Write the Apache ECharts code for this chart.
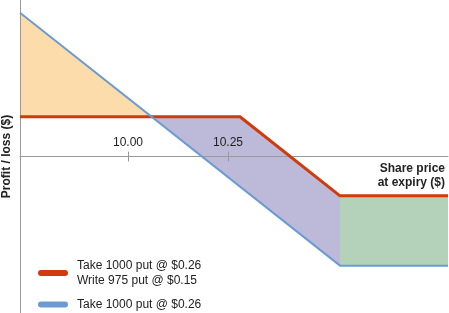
<!DOCTYPE html>
<html><head><meta charset="utf-8">
<script src="https://cdn.jsdelivr.net/npm/echarts@6/dist/echarts.min.js"></script>
<style>html,body{margin:0;padding:0;background:#fff}#c{width:449px;height:313px}</style>
</head><body><div id="c"></div>
<script>
// ---- data ----
const tickValues = [10.00, 10.25];
const tickLabels = ['10.00', '10.25'];
const redName = 'Take 1000 put @ $0.26\nWrite 975 put @ $0.15';
const blueName = 'Take 1000 put @ $0.26';
const redPrices = [9.73, 10.28, 10.53, 10.80];
const redPL = [94, 94, -93, -93];
const bluePrices = [9.73, 10.53, 10.80];
const bluePL = [340, -258, -258];
const xMin = 9.73, xMax = 10.80, yMin = -370, yMax = 370;
const fillColors = ['#FDDCAB', '#BCBAD8', '#B4D2B9'];

// ---- geometry helpers ----
function valAt(xs, ys, x) {
  for (let i = 0; i < xs.length - 1; i++) {
    if (x >= xs[i] - 1e-9 && x <= xs[i + 1] + 1e-9) {
      const t = (x - xs[i]) / (xs[i + 1] - xs[i]);
      return ys[i] + t * (ys[i + 1] - ys[i]);
    }
  }
  return ys[ys.length - 1];
}
const breaks = Array.from(new Set(redPrices.concat(bluePrices))).sort((a, b) => a - b);
let cross = null;
for (let i = 0; i < breaks.length - 1 && cross === null; i++) {
  const a = breaks[i], b = breaks[i + 1];
  const da = valAt(redPrices, redPL, a) - valAt(bluePrices, bluePL, a);
  const db = valAt(redPrices, redPL, b) - valAt(bluePrices, bluePL, b);
  if (da * db < 0) cross = a + (b - a) * da / (da - db);
}
const regions = [[xMin, cross], [cross, bluePrices[1]], [bluePrices[1], xMax]];

const font = '"Liberation Sans", Arial, sans-serif';
const chart = echarts.init(document.getElementById('c'));
const gridTop = 0, gridBottom = 0;
const plotH = chart.getHeight() - gridTop - gridBottom;
// distance of the zero line above the grid's bottom edge (for the label axis)
const zeroFromBottom = plotH * (0 - yMin) / (yMax - yMin);

chart.setOption({
  animation: false,
  grid: { left: 20, right: 1, top: gridTop, bottom: gridBottom, containLabel: false, outerBoundsMode: 'none' },
  legend: {
    orient: 'vertical', left: 38, top: 258, itemGap: 9, padding: 0,
    itemWidth: 30, itemHeight: 6,
    icon: 'path://M3,0 H27 A3,3 0 0 1 27,6 H3 A3,3 0 0 1 3,0 Z',
    textStyle: { fontFamily: font, fontSize: 12, color: '#222', lineHeight: 15, padding: [0, 0, 0, 4] },
    data: [redName, blueName]
  },
  xAxis: [{
    type: 'value', min: xMin, max: xMax, position: 'bottom', z: 2,
    name: 'Share price\nat expiry ($)', nameLocation: 'end', nameGap: -3,
    nameTextStyle: { fontFamily: font, fontSize: 12, fontWeight: 'bold', color: '#222',
      align: 'right', verticalAlign: 'top', lineHeight: 14, padding: [5, 0, 0, 0] },
    axisLine: { onZero: true, lineStyle: { color: '#999', width: 1 } },
    axisTick: { show: true, inside: false, length: 5, customValues: tickValues, lineStyle: { color: '#999' } },
    axisLabel: { show: false },
    splitLine: { show: false }
  }, {
    type: 'value', min: xMin, max: xMax, position: 'bottom', offset: -zeroFromBottom, z: 2,
    axisLine: { show: false, onZero: false },
    axisTick: { show: true, inside: true, length: 5, customValues: tickValues, lineStyle: { color: '#999' } },
    axisLabel: { inside: true, margin: 8, customValues: tickValues,
      formatter: v => tickLabels[tickValues.indexOf(v)] !== undefined ? tickLabels[tickValues.indexOf(v)] : v.toFixed(2),
      fontFamily: font, fontSize: 12, color: '#222' },
    splitLine: { show: false }
  }],
  yAxis: {
    type: 'value', min: yMin, max: yMax, z: 2,
    name: 'Profit / loss ($)', nameLocation: 'middle', nameGap: 7, nameRotate: 90,
    nameTextStyle: { fontFamily: font, fontSize: 12, fontWeight: 'bold', color: '#222' },
    axisLine: { show: true, onZero: false, lineStyle: { color: '#999', width: 1 } },
    axisTick: { show: false }, axisLabel: { show: false }, splitLine: { show: false }
  },
  series: [{
    type: 'custom', silent: true, z: 1,
    data: regions.map(r => [r[0], r[1]]),
    encode: { x: [0, 1] },
    renderItem: function (params, api) {
      const x0 = api.value(0), x1 = api.value(1);
      const xs = [x0].concat(breaks.filter(b => b > x0 + 1e-9 && b < x1 - 1e-9), [x1]);
      const pts = [];
      xs.forEach(x => pts.push(api.coord([x, valAt(redPrices, redPL, x)])));
      xs.slice().reverse().forEach(x => pts.push(api.coord([x, valAt(bluePrices, bluePL, x)])));
      return { type: 'polygon', shape: { points: pts }, style: { fill: fillColors[params.dataIndex] } };
    }
  }, {
    name: redName, type: 'line', z: 3, showSymbol: false, symbol: 'none',
    data: redPrices.map((p, i) => [p, redPL[i]]),
    lineStyle: { color: '#D03A0C', width: 3 }, itemStyle: { color: '#D03A0C' }
  }, {
    name: blueName, type: 'line', z: 4, showSymbol: false, symbol: 'none',
    data: bluePrices.map((p, i) => [p, bluePL[i]]),
    lineStyle: { color: '#6B9BD2', width: 2 }, itemStyle: { color: '#6B9BD2' }
  }]
});
</script></body></html>
